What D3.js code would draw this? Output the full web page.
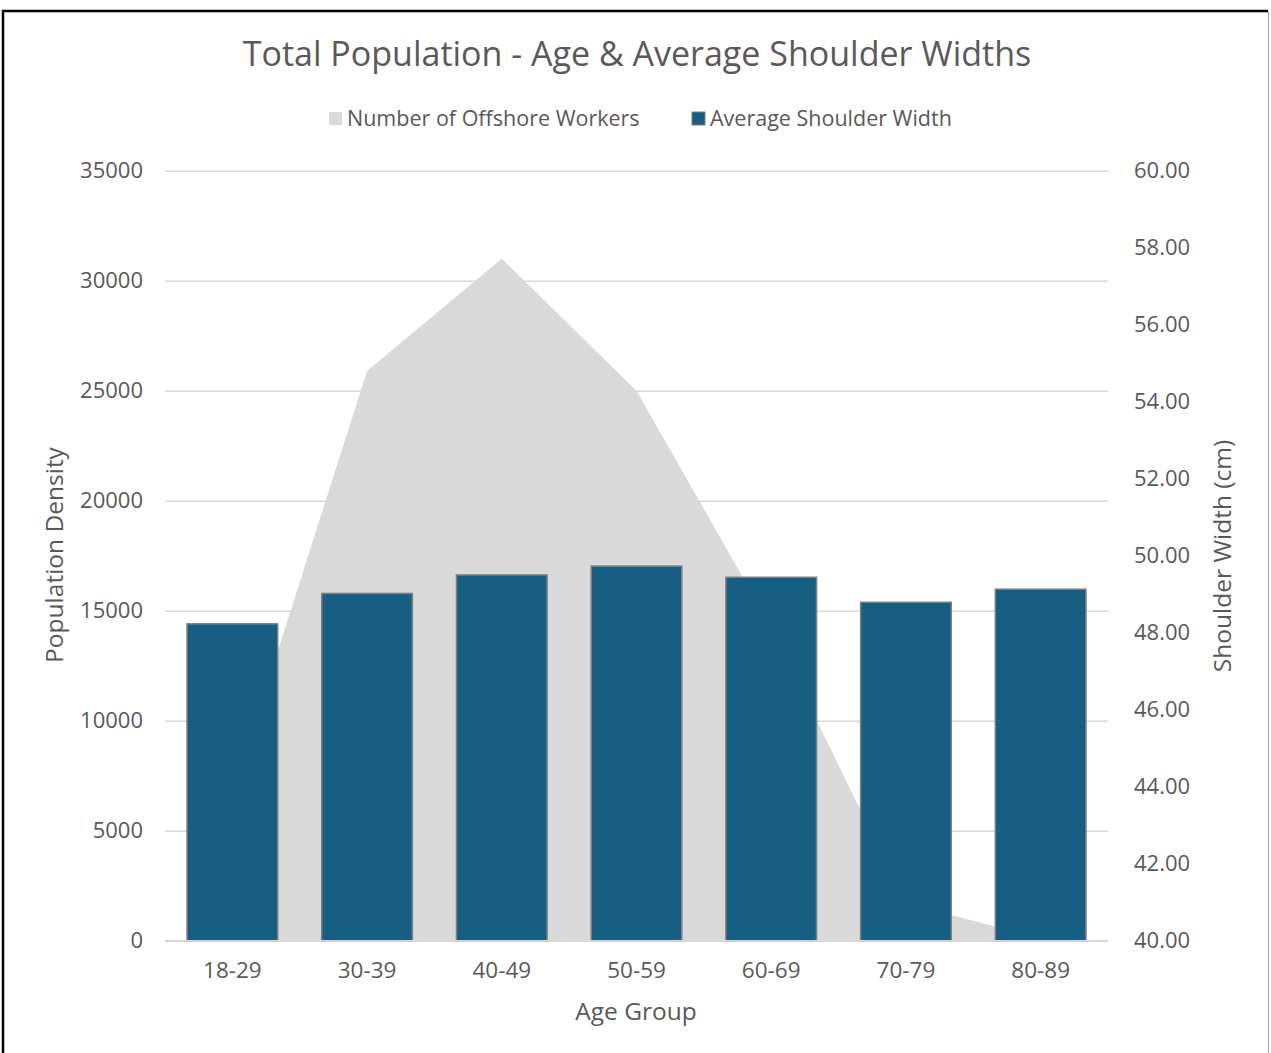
<!DOCTYPE html>
<html>
<head>
<meta charset="utf-8">
<script src="https://cdn.jsdelivr.net/npm/d3@7"></script>
<style>
  html, body { margin: 0; padding: 0; background: #fff; }
  svg { display: block; }
  text { font-family: "Open Sans", "Noto Sans", sans-serif; fill: #595959; }
</style>
</head>
<body>
<svg id="chart" width="1271" height="1053"></svg>
<script>
// Age groups on the x axis
const ageGroups = ["18-29", "30-39", "40-49", "50-59", "60-69", "70-79", "80-89"];
// Number of offshore workers per age group (left axis, area)
const workers = [6700, 25900, 31000, 25000, 14250, 1700, 100];
// Average shoulder width in cm per age group (right axis, bars)
const shoulderWidth = [48.23, 49.02, 49.50, 49.73, 49.44, 48.79, 49.13];
// Axis tick values
const leftTicks = [0, 5000, 10000, 15000, 20000, 25000, 30000, 35000];
const rightTicks = [40, 42, 44, 46, 48, 50, 52, 54, 56, 58, 60];

const svg = d3.select("#chart");
const W = 1271, H = 1053;
const plot = { left: 165, right: 1108, top: 170.7, bottom: 940.7 };
const FONT = "'Open Sans', 'Noto Sans', sans-serif";

// Frame around the chart
svg.append("path")
  .attr("d", `M3,${H + 5} L3,11 L1268,11`)
  .attr("fill", "none").attr("stroke", "#000").attr("stroke-width", 2.5);
svg.append("line")
  .attr("x1", 1268.5).attr("x2", 1268.5).attr("y1", 11).attr("y2", H)
  .attr("stroke", "#a6a6a6").attr("stroke-width", 1);

const x = d3.scaleBand().domain(ageGroups)
  .range([plot.left, plot.right]).paddingInner(0.327).paddingOuter(0.1635);
const yLeft = d3.scaleLinear().domain([0, 35000]).range([plot.bottom, plot.top]);
const yRight = d3.scaleLinear().domain([40, 60]).range([plot.bottom, plot.top]);
const cx = d => x(d) + x.bandwidth() / 2;

// Gridlines (left axis)
const grid = svg.append("g")
  .attr("transform", `translate(${plot.left},0)`)
  .call(d3.axisLeft(yLeft).tickValues(leftTicks).tickSize(-(plot.right - plot.left)).tickFormat(""));
grid.select(".domain").remove();
grid.selectAll(".tick line").attr("stroke", "#d9d9d9").attr("stroke-width", 1.5);

// Area: number of offshore workers
const area = d3.area()
  .x((d, i) => cx(ageGroups[i]))
  .y0(yLeft(0))
  .y1(d => yLeft(d));
svg.append("path").datum(workers)
  .attr("d", area)
  .attr("fill", "#d9d9d9");

// Bars: average shoulder width
svg.append("g").selectAll("rect")
  .data(shoulderWidth)
  .join("rect")
  .attr("x", (d, i) => x(ageGroups[i]))
  .attr("y", d => yRight(d))
  .attr("width", x.bandwidth())
  .attr("height", d => yRight(40) - yRight(d))
  .attr("fill", "#175f82")
  .attr("stroke", "#7f7f7f")
  .attr("stroke-width", 1.5);

// Baseline
svg.append("line")
  .attr("x1", plot.left).attr("x2", plot.right)
  .attr("y1", plot.bottom).attr("y2", plot.bottom)
  .attr("stroke", "#d9d9d9").attr("stroke-width", 1.5);

// Left axis labels
const la = svg.append("g")
  .attr("transform", `translate(${plot.left - 22},0)`)
  .call(d3.axisLeft(yLeft).tickValues(leftTicks).tickSize(0).tickPadding(0).tickFormat(d3.format("d")));
la.select(".domain").remove();
la.selectAll("text").style("font-size", "22px").attr("fill", "#595959").style("font-family", FONT);

// Right axis labels
const ra = svg.append("g")
  .attr("transform", `translate(${plot.right + 26},0)`)
  .call(d3.axisRight(yRight).tickValues(rightTicks).tickSize(0).tickPadding(0).tickFormat(d3.format(".2f")));
ra.select(".domain").remove();
ra.selectAll("text").style("font-size", "22px").attr("fill", "#595959").style("font-family", FONT);

// Bottom axis labels
const ba = svg.append("g")
  .attr("transform", `translate(0,${plot.bottom + 21})`)
  .call(d3.axisBottom(x).tickSize(0).tickPadding(0));
ba.select(".domain").remove();
ba.selectAll("text").style("font-size", "22.5px").attr("fill", "#595959").style("font-family", FONT);

// Titles
svg.append("text").attr("x", 637).attr("y", 66)
  .attr("text-anchor", "middle").style("font-size", "34px")
  .text("Total Population - Age & Average Shoulder Widths");
svg.append("text").attr("x", 636).attr("y", 1020)
  .attr("text-anchor", "middle").style("font-size", "24.5px")
  .text("Age Group");
svg.append("text")
  .attr("transform", "translate(63,555) rotate(-90)")
  .attr("text-anchor", "middle").style("font-size", "24.5px")
  .text("Population Density");
svg.append("text")
  .attr("transform", "translate(1231,556) rotate(-90)")
  .attr("text-anchor", "middle").style("font-size", "24.5px")
  .text("Shoulder Width (cm)");

// Legend
const legend = [
  { label: "Number of Offshore Workers", fill: "#d9d9d9", stroke: "none", x: 329 },
  { label: "Average Shoulder Width", fill: "#175f82", stroke: "#7f7f7f", x: 692 }
];
const lg = svg.append("g");
legend.forEach(l => {
  lg.append("rect").attr("x", l.x).attr("y", 112).attr("width", 13).attr("height", 13)
    .attr("fill", l.fill).attr("stroke", l.stroke).attr("stroke-width", 1);
  lg.append("text").attr("x", l.x + 18).attr("y", 126).style("font-size", "21.5px").text(l.label);
});
</script>
</body>
</html>
